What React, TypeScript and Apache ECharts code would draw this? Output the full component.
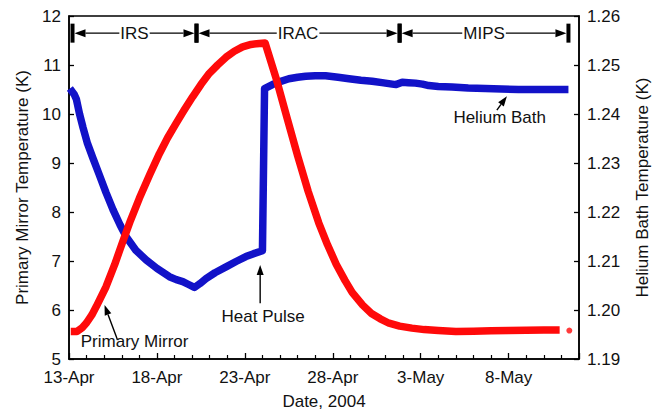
import React, { useEffect, useRef } from 'react';
import * as echarts from 'echarts';

// Days after 13-Apr-2004
const xTickLabels = ['13-Apr', '18-Apr', '23-Apr', '28-Apr', '3-May', '8-May'];

const mirrorDays = [
  0.1, 0.45, 0.75, 1.0, 1.3, 1.55, 2.1, 2.6, 3.06, 3.5, 4.0, 4.6, 5.14, 5.6, 6.09, 6.55, 7.03, 7.5,
  7.98, 8.45, 8.93, 9.4, 9.87, 10.35, 10.82, 11.15, 11.8, 12.4, 13.0, 13.6, 14.2, 14.7, 15.2, 15.7,
  16.1, 16.7, 17.2, 17.7, 18.2, 18.8, 19.5, 20.2, 21.0, 22.0, 23.0, 24.0, 25.0, 26.0, 27.0, 27.9,
];
const mirrorTemps = [
  5.56, 5.56, 5.64, 5.74, 5.9, 6.07, 6.47, 6.93, 7.4, 7.83, 8.28, 8.77, 9.19, 9.51, 9.81, 10.08, 10.35, 10.6,
  10.83, 11.0, 11.16, 11.28, 11.37, 11.42, 11.44, 11.45, 10.7, 9.92, 9.15, 8.42, 7.78, 7.33, 6.93, 6.6,
  6.36, 6.1, 5.93, 5.82, 5.73, 5.67, 5.63, 5.6, 5.58, 5.56, 5.565, 5.575, 5.58, 5.585, 5.59, 5.59,
];
const mirrorDotDays = [28.45];
const mirrorDotTemps = [5.58];

const bathDays = [
  0.05, 0.3, 0.42, 0.6, 0.8, 1.05, 1.36, 1.7, 2.1, 2.5, 2.9, 3.26, 3.8, 4.39, 5.0, 5.71, 6.1, 6.47, 6.8,
  7.13, 7.45, 7.79, 8.3, 8.93, 9.5, 10.06, 10.5, 11.0, 11.12, 11.4, 11.57, 12.0, 12.5, 13.0, 13.46, 14.0,
  14.59, 15.3, 15.92, 16.6, 17.24, 17.8, 18.38, 18.6, 18.95, 19.3, 19.7, 20.1, 20.46, 21.0, 21.78, 22.7,
  23.67, 24.6, 25.56, 27.0, 28.4,
];
const bathTemps = [
  1.2452, 1.244, 1.243, 1.24, 1.2372, 1.234, 1.231, 1.2278, 1.224, 1.2205, 1.2174, 1.2149, 1.2122, 1.2102,
  1.2085, 1.2068, 1.2062, 1.2058, 1.2052, 1.2046, 1.2054, 1.2064, 1.2076, 1.2088, 1.2099, 1.2109, 1.2115,
  1.2121, 1.2452, 1.2457, 1.246, 1.2466, 1.2472, 1.2475, 1.2477, 1.2478, 1.2478, 1.2475, 1.2472, 1.2469,
  1.2467, 1.2464, 1.2461, 1.246, 1.2465, 1.2464, 1.2463, 1.2461, 1.2458, 1.2456, 1.2455, 1.2453, 1.2452,
  1.2451, 1.245, 1.245, 1.245,
];

const phaseNames = ['IRS', 'IRAC', 'MIPS'];
const phaseBounds = [0.2, 7.25, 18.8, 28.4];
const phaseRowLevel = 11.65; // on left axis

const annotationTexts = ['Primary Mirror', 'Heat Pulse', 'Helium Bath'];
const annotationTextPos = [
  [3.73, 5.35],
  [11.04, 5.86],
  [24.49, 9.93],
];
const arrowFrom = [
  [2.76, 5.39],
  [10.87, 6.14],
  [24.33, 10.08],
];
const arrowTo = [
  [2.02, 6.1],
  [10.87, 6.92],
  [24.9, 10.36],
];

const FONT = '"Liberation Sans", Arial, Helvetica, sans-serif';
const TEXT_COLOR = '#111';
const RED = '#ff0a0a';
const BLUE = '#1212c8';

export default function App() {
  const ref = useRef<HTMLDivElement>(null);

  useEffect(() => {
    if (!ref.current) return;
    const chart = echarts.init(ref.current, undefined, { renderer: 'svg' });

    const axisLine = { show: true, lineStyle: { color: '#000', width: 1.5 } };

    const option: any = {
      animation: false,
      backgroundColor: '#fff',
      textStyle: { fontFamily: FONT },
      grid: {
        left: 69,
        right: 80,
        top: 16,
        bottom: 59,
        show: true,
        borderColor: '#000',
        borderWidth: 1.5,
        backgroundColor: 'transparent',
      },
      xAxis: {
        type: 'value',
        min: 0,
        max: 29,
        interval: 5,
        name: 'Date, 2004',
        nameLocation: 'middle',
        nameGap: 34,
        nameTextStyle: { fontSize: 17, color: TEXT_COLOR, fontFamily: FONT },
        axisLine,
        axisTick: { show: true, inside: true, length: 6, lineStyle: { color: '#000', width: 1.3 } },
        minorTick: { show: true, splitNumber: 5, length: 4, lineStyle: { color: '#000', width: 1.2 } },
        splitLine: { show: false },
        axisLabel: {
          fontSize: 17,
          color: TEXT_COLOR,
          fontFamily: FONT,
          margin: 10,
          showMaxLabel: false,
          formatter: (v: number) => (v % 5 === 0 ? xTickLabels[v / 5] ?? '' : ''),
        },
      },
      yAxis: [
        {
          type: 'value',
          min: 5,
          max: 12,
          interval: 1,
          position: 'left',
          name: 'Primary Mirror Temperature (K)',
          nameLocation: 'middle',
          nameGap: 29,
          nameTextStyle: { fontSize: 17, color: TEXT_COLOR, fontFamily: FONT },
          axisLine,
          axisTick: { show: true, inside: true, length: 5, lineStyle: { color: '#000', width: 1.3 } },
          splitLine: { show: false },
          axisLabel: { fontSize: 17, color: TEXT_COLOR, fontFamily: FONT, margin: 8 },
        },
        {
          type: 'value',
          min: 1.19,
          max: 1.26,
          interval: 0.01,
          position: 'right',
          name: 'Helium Bath Temperature (K)',
          nameLocation: 'middle',
          nameGap: 55,
          nameTextStyle: { fontSize: 17, color: TEXT_COLOR, fontFamily: FONT },
          axisLine,
          axisTick: { show: true, inside: true, length: 5, lineStyle: { color: '#000', width: 1.3 } },
          splitLine: { show: false },
          axisLabel: {
            fontSize: 17,
            color: TEXT_COLOR,
            fontFamily: FONT,
            margin: 8,
            formatter: (v: number) => v.toFixed(2),
          },
        },
      ],
      series: [
        {
          name: 'Helium Bath',
          type: 'line',
          yAxisIndex: 1,
          data: bathDays.map((d, i) => [d, bathTemps[i]]),
          showSymbol: false,
          lineStyle: { color: BLUE, width: 7.5, join: 'round' },
          itemStyle: { color: BLUE },
        },
        {
          name: 'Primary Mirror',
          type: 'line',
          yAxisIndex: 0,
          data: mirrorDays.map((d, i) => [d, mirrorTemps[i]]),
          showSymbol: false,
          lineStyle: { color: RED, width: 7.5, join: 'round' },
          itemStyle: { color: RED },
        },
        {
          name: 'Primary Mirror dot',
          type: 'scatter',
          yAxisIndex: 0,
          data: mirrorDotDays.map((d, i) => [d, mirrorDotTemps[i]]),
          symbolSize: 6,
          itemStyle: { color: RED },
        },
        {
          name: 'Phases',
          type: 'custom',
          yAxisIndex: 0,
          clip: false,
          silent: true,
          data: phaseNames.map((_, i) => [phaseBounds[i], phaseBounds[i + 1], phaseRowLevel, i]),
          encode: { x: [0, 1], y: 2 },
          renderItem: (params: any, api: any) => {
            const s = api.coord([api.value(0), api.value(2)]);
            const e = api.coord([api.value(1), api.value(2)]);
            const y = s[1];
            const barW = 4;
            const barH = 19;
            const headL = 11;
            const headH = 4;
            const sx = s[0] + barW / 2;
            const ex = e[0] - barW / 2;
            const idx = api.value(3);
            const children: any[] = [
              {
                type: 'line',
                shape: { x1: sx + headL, y1: y, x2: ex - headL, y2: y },
                style: { stroke: '#000', lineWidth: 1.2 },
              },
              {
                type: 'polygon',
                shape: { points: [[sx, y], [sx + headL, y - headH], [sx + headL, y + headH]] },
                style: { fill: '#000' },
              },
              {
                type: 'polygon',
                shape: { points: [[ex, y], [ex - headL, y - headH], [ex - headL, y + headH]] },
                style: { fill: '#000' },
              },
              {
                type: 'rect',
                shape: { x: s[0] - barW / 2, y: y - barH / 2, width: barW, height: barH },
                style: { fill: '#000' },
              },
              {
                type: 'rect',
                shape: { x: e[0] - barW / 2, y: y - barH / 2, width: barW, height: barH },
                style: { fill: '#000' },
              },
              {
                type: 'text',
                x: (s[0] + e[0]) / 2,
                y: y,
                style: {
                  text: phaseNames[idx],
                  fill: TEXT_COLOR,
                  fontSize: 17,
                  fontFamily: FONT,
                  align: 'center',
                  verticalAlign: 'middle',
                  backgroundColor: '#fff',
                  padding: [0, 1],
                },
              },
            ];
            return { type: 'group', children };
          },
        },
        {
          name: 'Arrows',
          type: 'custom',
          yAxisIndex: 0,
          clip: false,
          silent: true,
          data: arrowFrom.map((f, i) => [f[0], f[1], arrowTo[i][0], arrowTo[i][1]]),
          encode: { x: [0, 2], y: [1, 3] },
          renderItem: (params: any, api: any) => {
            const p1 = api.coord([api.value(0), api.value(1)]);
            const p2 = api.coord([api.value(2), api.value(3)]);
            const ang = Math.atan2(p2[1] - p1[1], p2[0] - p1[0]);
            const L = 10;
            const W = 3.5;
            const bx = p2[0] - L * Math.cos(ang);
            const by = p2[1] - L * Math.sin(ang);
            const nx = -Math.sin(ang);
            const ny = Math.cos(ang);
            return {
              type: 'group',
              children: [
                {
                  type: 'line',
                  shape: { x1: p1[0], y1: p1[1], x2: bx, y2: by },
                  style: { stroke: '#000', lineWidth: 1.4 },
                },
                {
                  type: 'polygon',
                  shape: {
                    points: [
                      [p2[0], p2[1]],
                      [bx + W * nx, by + W * ny],
                      [bx - W * nx, by - W * ny],
                    ],
                  },
                  style: { fill: '#000' },
                },
              ],
            };
          },
        },
        {
          name: 'Labels',
          type: 'custom',
          yAxisIndex: 0,
          clip: false,
          silent: true,
          data: annotationTextPos.map((p, i) => [p[0], p[1], i]),
          encode: { x: 0, y: 1 },
          renderItem: (params: any, api: any) => {
            const p = api.coord([api.value(0), api.value(1)]);
            return {
              type: 'text',
              x: p[0],
              y: p[1],
              style: {
                text: annotationTexts[api.value(2)],
                fill: TEXT_COLOR,
                fontSize: 17,
                fontFamily: FONT,
                align: 'center',
                verticalAlign: 'middle',
              },
            };
          },
        },
      ],
    };

    chart.setOption(option);
    return () => chart.dispose();
  }, []);

  return <div ref={ref} style={{ width: 659, height: 418, position: 'absolute', left: 0, top: 0 }} />;
}
